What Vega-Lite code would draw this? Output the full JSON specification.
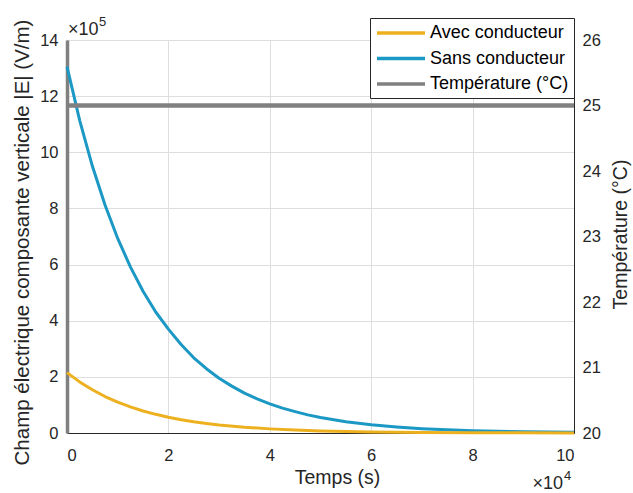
{
  "$schema": "https://vega.github.io/schema/vega-lite/v6.json",
  "width": 507,
  "height": 393,
  "autosize": {"type": "none"},
  "padding": {"left": 67, "top": 40, "right": 59, "bottom": 60},
  "background": "white",
  "config": {
    "font": "Liberation Sans",
    "view": {"stroke": "#262626", "strokeWidth": 1},
    "axis": {
      "labelFont": "Liberation Sans",
      "labelFontSize": 16.5,
      "labelColor": "#262626",
      "titleFont": "Liberation Sans",
      "titleFontSize": 19.5,
      "titleFontWeight": "normal",
      "titleColor": "#262626",
      "ticks": false,
      "gridColor": "#dedede",
      "gridWidth": 1,
      "domainColor": "#262626"
    },
    "legend": {
      "orient": "none",
      "legendX": 303,
      "legendY": -22,
      "padding": 5,
      "rowPadding": 6.5,
      "strokeColor": "#262626",
      "fillColor": "white",
      "labelFont": "Liberation Sans",
      "labelFontSize": 18,
      "labelColor": "#000000",
      "labelLimit": 300,
      "labelOffset": 35,
      "symbolType": "M-1,0H5",
      "symbolSize": 256,
      "symbolStrokeWidth": 3.5
    }
  },
  "datasets": {
    "E": [
      {"t": 0, "E": 1305000, "series": "Sans conducteur"},
      {"t": 2500, "E": 1114000, "series": "Sans conducteur"},
      {"t": 5000, "E": 951000, "series": "Sans conducteur"},
      {"t": 7500, "E": 812000, "series": "Sans conducteur"},
      {"t": 10000, "E": 693000, "series": "Sans conducteur"},
      {"t": 12500, "E": 592000, "series": "Sans conducteur"},
      {"t": 15000, "E": 505000, "series": "Sans conducteur"},
      {"t": 17500, "E": 431000, "series": "Sans conducteur"},
      {"t": 20000, "E": 370000, "series": "Sans conducteur"},
      {"t": 22500, "E": 315000, "series": "Sans conducteur"},
      {"t": 25000, "E": 268000, "series": "Sans conducteur"},
      {"t": 27500, "E": 229000, "series": "Sans conducteur"},
      {"t": 30000, "E": 195000, "series": "Sans conducteur"},
      {"t": 32500, "E": 167000, "series": "Sans conducteur"},
      {"t": 35000, "E": 142000, "series": "Sans conducteur"},
      {"t": 37500, "E": 121500, "series": "Sans conducteur"},
      {"t": 40000, "E": 104000, "series": "Sans conducteur"},
      {"t": 42500, "E": 88500, "series": "Sans conducteur"},
      {"t": 45000, "E": 76000, "series": "Sans conducteur"},
      {"t": 47500, "E": 64500, "series": "Sans conducteur"},
      {"t": 50000, "E": 55000, "series": "Sans conducteur"},
      {"t": 55000, "E": 40000, "series": "Sans conducteur"},
      {"t": 60000, "E": 29000, "series": "Sans conducteur"},
      {"t": 65000, "E": 21500, "series": "Sans conducteur"},
      {"t": 70000, "E": 15500, "series": "Sans conducteur"},
      {"t": 75000, "E": 11300, "series": "Sans conducteur"},
      {"t": 80000, "E": 8300, "series": "Sans conducteur"},
      {"t": 85000, "E": 6000, "series": "Sans conducteur"},
      {"t": 90000, "E": 4400, "series": "Sans conducteur"},
      {"t": 95000, "E": 3200, "series": "Sans conducteur"},
      {"t": 100000, "E": 2300, "series": "Sans conducteur"},
      {"t": 0, "E": 215000, "series": "Avec conducteur"},
      {"t": 2500, "E": 182000, "series": "Avec conducteur"},
      {"t": 5000, "E": 154000, "series": "Avec conducteur"},
      {"t": 7500, "E": 130000, "series": "Avec conducteur"},
      {"t": 10000, "E": 110000, "series": "Avec conducteur"},
      {"t": 12500, "E": 93000, "series": "Avec conducteur"},
      {"t": 15000, "E": 78500, "series": "Avec conducteur"},
      {"t": 17500, "E": 66500, "series": "Avec conducteur"},
      {"t": 20000, "E": 56000, "series": "Avec conducteur"},
      {"t": 22500, "E": 47500, "series": "Avec conducteur"},
      {"t": 25000, "E": 40000, "series": "Avec conducteur"},
      {"t": 27500, "E": 34000, "series": "Avec conducteur"},
      {"t": 30000, "E": 28700, "series": "Avec conducteur"},
      {"t": 35000, "E": 20500, "series": "Avec conducteur"},
      {"t": 40000, "E": 14700, "series": "Avec conducteur"},
      {"t": 45000, "E": 10500, "series": "Avec conducteur"},
      {"t": 50000, "E": 7500, "series": "Avec conducteur"},
      {"t": 60000, "E": 3800, "series": "Avec conducteur"},
      {"t": 70000, "E": 2000, "series": "Avec conducteur"},
      {"t": 80000, "E": 1000, "series": "Avec conducteur"},
      {"t": 90000, "E": 500, "series": "Avec conducteur"},
      {"t": 100000, "E": 300, "series": "Avec conducteur"}
    ],
    "T": [
      {"t": 0, "T": 25, "series": "Température (°C)"},
      {"t": 50000, "T": 25, "series": "Température (°C)"},
      {"t": 100000, "T": 25, "series": "Température (°C)"}
    ]
  },
  "layer": [
    {
      "layer": [
        {
          "data": {"name": "E"},
          "mark": {"type": "line", "strokeCap": "butt", "strokeWidth": 3, "strokeJoin": "round"},
          "encoding": {
            "x": {
              "field": "t", "type": "quantitative",
              "scale": {"domain": [0, 100000], "nice": false},
              "axis": {
                "values": [0, 20000, 40000, 60000, 80000, 100000],
                "labelExpr": "datum.value / 10000",
                "title": "Temps (s)",
                "grid": true,
                "labelPadding": 14,
                "titleX": 270,
                "titleY": 44,
                "titleBaseline": "middle",
                "titleAlign": "center"
              }
            },
            "y": {
              "field": "E", "type": "quantitative",
              "scale": {"domain": [0, 1400000], "nice": false},
              "axis": {
                "values": [0, 200000, 400000, 600000, 800000, 1000000, 1200000, 1400000],
                "labelExpr": "datum.value / 100000",
                "title": "Champ électrique composante verticale |E| (V/m)",
                "titleFontSize": 20.5,
                "grid": true,
                "labelPadding": 9,
                "domainColor": "#808080",
                "domainWidth": 3.5,
                "titleX": -45,
                "titleY": 202,
                "titleAngle": -90,
                "titleBaseline": "middle",
                "titleAlign": "center"
              }
            },
            "color": {
              "field": "series", "type": "nominal",
              "scale": {"domain": ["Avec conducteur", "Sans conducteur", "Température (°C)"], "range": ["#EDB120", "#1b98c4", "#808080"]},
              "legend": {"title": null}
            }
          }
        },
        {
          "data": {"values": [{}]},
          "mark": {"type": "text", "align": "left", "baseline": "alphabetic", "dx": 1, "dy": -5, "fontSize": 18, "color": "#262626"},
          "encoding": {"x": {"datum": 0}, "y": {"datum": 1400000}, "text": {"value": "×10"}}
        },
        {
          "data": {"values": [{}]},
          "mark": {"type": "text", "align": "left", "baseline": "alphabetic", "dx": 32, "dy": -14, "fontSize": 13, "color": "#262626"},
          "encoding": {"x": {"datum": 0}, "y": {"datum": 1400000}, "text": {"value": "5"}}
        },
        {
          "data": {"values": [{}]},
          "mark": {"type": "text", "align": "right", "baseline": "alphabetic", "dx": -11, "dy": 56, "fontSize": 18, "color": "#262626"},
          "encoding": {"x": {"datum": 100000}, "y": {"datum": 0}, "text": {"value": "×10"}}
        },
        {
          "data": {"values": [{}]},
          "mark": {"type": "text", "align": "left", "baseline": "alphabetic", "dx": -10, "dy": 47, "fontSize": 13, "color": "#262626"},
          "encoding": {"x": {"datum": 100000}, "y": {"datum": 0}, "text": {"value": "4"}}
        }
      ]
    },
    {
      "data": {"name": "T"},
      "mark": {"type": "line", "strokeCap": "butt", "strokeWidth": 4.5},
      "encoding": {
        "x": {"field": "t", "type": "quantitative"},
        "y": {
          "field": "T", "type": "quantitative",
          "scale": {"domain": [20, 26], "nice": false},
          "axis": {
            "orient": "right",
            "values": [20, 21, 22, 23, 24, 25, 26],
            "title": "Température (°C)",
            "grid": false,
            "labelPadding": 8,
            "titleX": 46,
            "titleY": 194,
            "titleAngle": -90,
            "titleBaseline": "middle",
            "titleAlign": "center"
          }
        },
        "color": {"field": "series", "type": "nominal", "legend": {"title": null}}
      }
    }
  ],
  "resolve": {"scale": {"y": "independent"}}
}
